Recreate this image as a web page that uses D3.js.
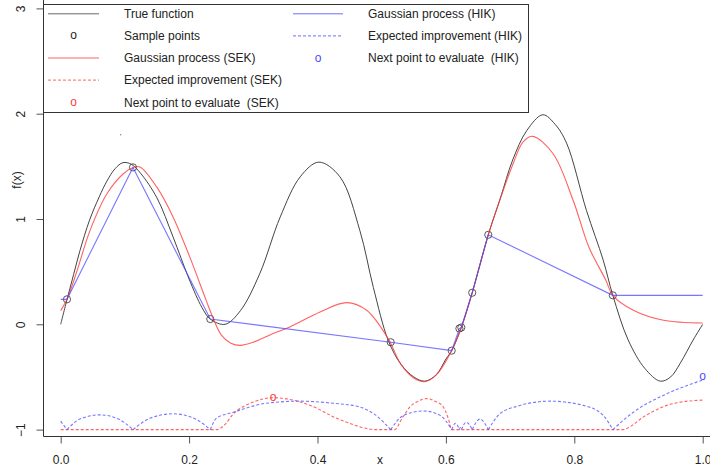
<!DOCTYPE html>
<html>
<head>
<meta charset="utf-8">
<script src="https://cdn.jsdelivr.net/npm/d3@7"></script>
<style>
  body { margin: 0; background: #fff; }
  svg text { font-family: "Liberation Sans", Arial, Helvetica, sans-serif; white-space: pre; }
</style>
</head>
<body>
<div id="chart"></div>
<script>

// True function
var trueX = [0, 0.01, 0.02, 0.03, 0.045, 0.06, 0.072, 0.085, 0.097, 0.11, 0.125, 0.15, 0.175, 0.2, 0.22, 0.233, 0.256, 0.28, 0.31, 0.342, 0.373, 0.402, 0.435, 0.466, 0.487, 0.51, 0.53, 0.55, 0.567, 0.585, 0.6, 0.609, 0.624, 0.641, 0.666, 0.685, 0.704, 0.726, 0.751, 0.77, 0.788, 0.819, 0.845, 0.86, 0.884, 0.91, 0.934, 0.95, 0.965, 0.985, 1.0];
var trueY = [0, 0.24, 0.47, 0.7, 0.99, 1.21, 1.36, 1.48, 1.535, 1.52, 1.43, 1.2, 0.83, 0.43, 0.16, 0.05, 0.0, 0.13, 0.48, 1.02, 1.4, 1.54, 1.4, 0.89, 0.35, -0.15, -0.38, -0.5, -0.54, -0.48, -0.33, -0.25, -0.03, 0.3, 0.85, 1.2, 1.56, 1.84, 1.99, 1.9, 1.72, 1.08, 0.61, 0.275, -0.15, -0.42, -0.54, -0.5, -0.37, -0.15, 0.0];

// Sample points
var sampleX = [0.0098, 0.1126, 0.233, 0.514, 0.609, 0.621, 0.624, 0.641, 0.666, 0.86];
var sampleY = [0.237, 1.49, 0.05, -0.17, -0.25, -0.04, -0.03, 0.3, 0.85, 0.275];

// Gaussian process (SEK)
var gpSekX = [0, 0.0098, 0.025, 0.0456, 0.072, 0.0975, 0.113, 0.1235, 0.15, 0.175, 0.201, 0.227, 0.238, 0.25, 0.265, 0.28, 0.3, 0.33, 0.357, 0.404, 0.4455, 0.4766, 0.51, 0.53, 0.55, 0.567, 0.585, 0.609, 0.624, 0.641, 0.666, 0.684, 0.705, 0.72, 0.735, 0.767, 0.798, 0.823, 0.849, 0.86, 0.892, 0.939, 1.0];
var gpSekY = [0.13, 0.237, 0.5, 0.89, 1.24, 1.43, 1.49, 1.494, 1.3, 1.02, 0.64, 0.22, 0.05, -0.1, -0.18, -0.2, -0.17, -0.09, -0.025, 0.117, 0.206, 0.133, -0.136, -0.38, -0.51, -0.545, -0.48, -0.25, -0.03, 0.3, 0.85, 1.18, 1.53, 1.73, 1.785, 1.62, 1.18, 0.73, 0.42, 0.275, 0.133, 0.038, 0.012];

// Expected improvement (SEK)
var eiSekX = [0, 0.243, 0.256, 0.269, 0.285, 0.3, 0.331, 0.373, 0.4, 0.425, 0.45, 0.47, 0.49, 0.52, 0.532, 0.544, 0.557, 0.57, 0.583, 0.596, 0.604, 0.609, 0.876, 0.89, 0.9075, 0.925, 0.944, 0.97, 1.0];
var eiSekY = [-1, -1, -0.95, -0.85, -0.78, -0.738, -0.697, -0.738, -0.8, -0.88, -0.94, -0.98, -1, -1, -0.89, -0.785, -0.73, -0.706, -0.73, -0.785, -0.9, -1, -1, -0.96, -0.88, -0.82, -0.77, -0.735, -0.72];

// Gaussian process (HIK)
var gpHikX = [0, 0.0098, 0.1126, 0.233, 0.514, 0.609, 0.621, 0.624, 0.641, 0.666, 0.86, 1.0];
var gpHikY = [0.237, 0.237, 1.49, 0.05, -0.17, -0.25, -0.04, -0.03, 0.3, 0.85, 0.275, 0.275];

// Expected improvement (HIK)
var eiHikX = [0, 0.0098, 0.03, 0.061, 0.09, 0.1126, 0.14, 0.175, 0.21, 0.233, 0.243, 0.269, 0.32, 0.373, 0.4245, 0.466, 0.49, 0.514, 0.534, 0.565, 0.591, 0.609, 0.615, 0.621, 0.6225, 0.624, 0.632, 0.641, 0.653, 0.666, 0.684, 0.71, 0.762, 0.814, 0.845, 0.86, 0.892, 0.944, 1.0];
var eiHikY = [-0.92, -1, -0.9, -0.86, -0.9, -1, -0.89, -0.85, -0.9, -1, -0.89, -0.835, -0.75, -0.73, -0.75, -0.785, -0.86, -1, -0.865, -0.823, -0.865, -1, -0.94, -1, -0.98, -1, -0.93, -1, -0.9, -1, -0.85, -0.78, -0.73, -0.77, -0.865, -1, -0.835, -0.66, -0.53];

// Next points to evaluate
var nextSek = [0.331, -0.697];
var nextHik = [1.0, -0.5];
var strayPoint = [0.0935, 1.8];

var xTicks = [0, 0.2, 0.4, 0.6, 0.8, 1.0];
var yTicks = [-1, 0, 1, 2, 3];

var legendLeft = ["True function", "Sample points", "Gaussian process (SEK)", "Expected improvement (SEK)", "Next point to evaluate  (SEK)"];
var legendRight = ["Gaussian process (HIK)", "Expected improvement (HIK)", "Next point to evaluate  (HIK)"];

var colRed = "#ff3b3b", colBlue = "#4a4aff", colBlack = "#444";

var width = 710, height = 467;

var svg = d3.select("#chart")
    .append("svg")
    .attr("width", width)
    .attr("height", height);

var x = d3.scaleLinear().domain([0, 1]).range([60.7, 702.7]);
var y = d3.scaleLinear().domain([-1, 3]).range([429.6, 8.4]);

function pts(xs, ys) { return xs.map((d, i) => [d, ys[i]]); }

// split a series at its cusps (sample locations) so each arc keeps a sharp point
function arcs(xs, ys, cuts) {
    var out = [], cur = [];
    xs.forEach((d, i) => {
        cur.push([d, ys[i]]);
        if (cuts.indexOf(d) >= 0 && cur.length > 1) { out.push(cur); cur = [[d, ys[i]]]; }
    });
    if (cur.length > 1) out.push(cur);
    return out;
}

var smooth = d3.line().x(d => x(d[0])).y(d => y(d[1])).curve(d3.curveCatmullRom.alpha(0.5));
var mono = d3.line().x(d => x(d[0])).y(d => y(d[1])).curve(d3.curveMonotoneX);
var straight = d3.line().x(d => x(d[0])).y(d => y(d[1]));

// x axis
var gx = svg.append("g")
    .attr("transform", "translate(0,436.5)")
    .call(d3.axisBottom(x).tickValues(xTicks).tickFormat(d3.format(".1f")).tickSize(7).tickPadding(12));
gx.select(".domain").remove();
gx.selectAll("line").attr("stroke", "#555");
gx.selectAll("text").style("font-size", "12px").attr("fill", "#222");

// y axis with rotated labels
var gy = svg.append("g")
    .attr("transform", "translate(43.5,0)")
    .call(d3.axisLeft(y).tickValues(yTicks).tickFormat(d3.format("d")).tickSize(7));
gy.select(".domain").remove();
gy.selectAll("line").attr("stroke", "#555");
gy.selectAll("text")
    .attr("x", 0).attr("dy", 0)
    .attr("transform", "translate(-18.5,0) rotate(-90)")
    .attr("text-anchor", "middle")
    .style("font-size", "12px")
    .attr("fill", "#222");

// L-shaped box
svg.append("path")
    .attr("d", "M43.5,0V436.5H710")
    .attr("fill", "none")
    .attr("stroke", "#333");

// axis titles
svg.append("text")
    .attr("x", 380).attr("y", 464)
    .attr("text-anchor", "middle")
    .style("font-size", "12px")
    .attr("fill", "#222")
    .text("x");

svg.append("text")
    .attr("transform", "translate(21,180) rotate(-90)")
    .attr("text-anchor", "middle")
    .style("font-size", "12px")
    .attr("fill", "#222")
    .text("f(x)");

// true function
svg.append("path")
    .attr("d", smooth(pts(trueX, trueY)))
    .attr("fill", "none").attr("stroke", colBlack).attr("stroke-width", 1);

// sample points
svg.selectAll("circle.sample")
    .data(pts(sampleX, sampleY))
    .join("circle")
    .attr("class", "sample")
    .attr("cx", d => x(d[0])).attr("cy", d => y(d[1]))
    .attr("r", 3.6)
    .attr("fill", "none").attr("stroke", colBlack).attr("stroke-width", 0.9);

svg.append("circle")
    .attr("cx", x(strayPoint[0])).attr("cy", y(strayPoint[1]))
    .attr("r", 0.6).attr("fill", "#333");

// GP (SEK) and its EI
svg.append("path")
    .attr("d", smooth(pts(gpSekX, gpSekY)))
    .attr("fill", "none").attr("stroke", colRed).attr("stroke-opacity", 0.8).attr("stroke-width", 1.1);

svg.append("path")
    .attr("d", mono(pts(eiSekX, eiSekY)))
    .attr("fill", "none").attr("stroke", colRed).attr("stroke-opacity", 0.8)
    .attr("stroke-width", 1.1).attr("stroke-dasharray", "3,2");

// GP (HIK) and its EI
svg.append("path")
    .attr("d", straight(pts(gpHikX, gpHikY)))
    .attr("fill", "none").attr("stroke", colBlue).attr("stroke-opacity", 0.75).attr("stroke-width", 1.1);

svg.selectAll("path.eihik")
    .data(arcs(eiHikX, eiHikY, sampleX))
    .join("path")
    .attr("class", "eihik")
    .attr("d", d => mono(d))
    .attr("fill", "none").attr("stroke", colBlue).attr("stroke-opacity", 0.75)
    .attr("stroke-width", 1.1).attr("stroke-dasharray", "3,2");

// next points to evaluate
svg.append("text")
    .attr("x", x(nextSek[0])).attr("y", y(nextSek[1]) + 3.5)
    .attr("text-anchor", "middle")
    .style("font-size", "12px")
    .attr("fill", colRed)
    .text("o");

svg.append("text")
    .attr("x", x(nextHik[0])).attr("y", y(nextHik[1]) + 3.5)
    .attr("text-anchor", "middle")
    .style("font-size", "12px")
    .attr("fill", colBlue)
    .text("o");

// legend
var legend = svg.append("g");
legend.append("rect")
    .attr("x", 43.5).attr("y", 4.5)
    .attr("width", 485).attr("height", 108)
    .attr("fill", "#fff").attr("stroke", "#333");

var rowY = i => 13.8 + i * 22.1;

var leftSym = [
    {type: "line", color: colBlack},
    {type: "o", color: "#222"},
    {type: "line", color: colRed},
    {type: "dash", color: colRed},
    {type: "o", color: colRed}
];
var rightSym = [
    {type: "line", color: colBlue},
    {type: "dash", color: colBlue},
    {type: "o", color: colBlue}
];

function drawColumn(labels, syms, x0, x1, tx) {
    labels.forEach((lab, i) => {
        var s = syms[i], yy = rowY(i);
        if (s.type === "o") {
            legend.append("text")
                .attr("x", (x0 + x1) / 2).attr("y", yy + 3.5)
                .attr("text-anchor", "middle")
                .style("font-size", "12px")
                .attr("fill", s.color)
                .text("o");
        } else {
            legend.append("line")
                .attr("x1", x0).attr("x2", x1).attr("y1", yy).attr("y2", yy)
                .attr("stroke", s.color).attr("stroke-opacity", 0.8)
                .attr("stroke-dasharray", s.type === "dash" ? "3,2" : null);
        }
        legend.append("text")
            .attr("x", tx).attr("y", yy + 4.3)
            .style("font-size", "12px")
            .attr("fill", "#222")
            .text(lab);
    });
}

drawColumn(legendLeft, leftSym, 48, 99, 124);
drawColumn(legendRight, rightSym, 293, 343, 368);

</script>
</body>
</html>
